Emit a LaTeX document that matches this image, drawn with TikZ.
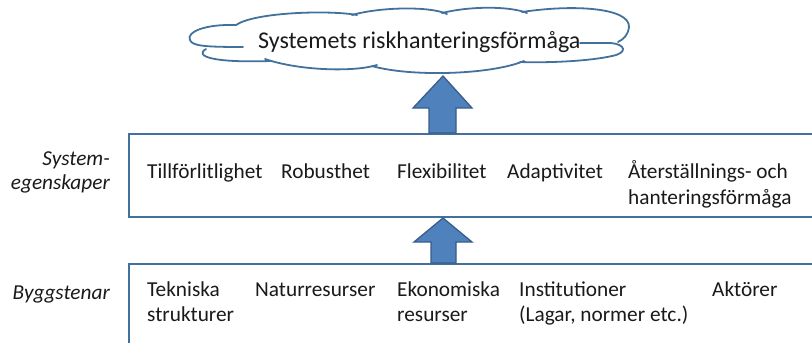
\documentclass[tikz,border=0pt]{standalone}
\usepackage{fontspec}
\setmainfont{Carlito}
\definecolor{edge}{HTML}{41719C}
\definecolor{arrfill}{HTML}{4F81BD}
\definecolor{arredge}{HTML}{385D8A}
\definecolor{txt}{HTML}{1A1A1A}
\begin{document}
\begin{tikzpicture}[x=1pt,y=-1pt,
  lbl/.style={inner sep=0pt, anchor=base west, font=\fontsize{21.3}{26}\selectfont, text=txt},
  side/.style={inner sep=0pt, anchor=base east, font=\fontsize{21.3}{26}\selectfont\itshape, text=txt},
  cloudlbl/.style={inner sep=0pt, anchor=base west, font=\fontsize{24}{28}\selectfont, text=txt},
  panel/.style={draw=edge, line width=2pt, fill=white, inner sep=0pt},
  blockarrow/.style={fill=arrfill, draw=arredge, line width=1.3pt, line join=miter},
  cloudline/.style={draw=edge, line width=1.8pt, line cap=round}]
\useasboundingbox (0,0) rectangle (812,343);
\clip (0,0) rectangle (812,343);

% panels
\node[panel, minimum width=691pt, minimum height=83pt] (box1) at (474.5,175.5) {};
\node[panel, minimum width=691pt, minimum height=96pt] (box2) at (474.5,312) {};

% cloud outline
\draw[cloudline]
  (236,25) .. controls (205,24) and (186,32) .. (190,40)
  .. controls (192,46) and (205,47) .. (243,47);
\draw[cloudline] (236,25) .. controls (255,12) and (330,10) .. (357,15);
\draw[cloudline] (352,15) .. controls (380,7) and (430,6) .. (447,14);
\draw[cloudline] (442,13) .. controls (470,6) and (510,6) .. (527,13);
\draw[cloudline] (522,12) .. controls (575,4) and (630,8) .. (629,27)
  .. controls (628,35) and (624,39) .. (618,42);
\draw[cloudline] (580,43) -- (610,43) .. controls (626,44) and (628,53) .. (612,56)
  .. controls (590,61) and (550,63) .. (520,62);
\draw[cloudline] (206,49) .. controls (194,56) and (212,63) .. (270,61);
\draw[cloudline] (265,59) .. controls (300,71) and (355,72) .. (377,65);
\draw[cloudline] (372,66) .. controls (410,77) and (490,75) .. (524,61);
\coordinate (cloudbottom) at (443,76);

\node[cloudlbl] (ctext) at (258,48) {Systemets riskhanteringsförmåga};

% block arrows
\draw[blockarrow] (429,0 |- box1.north) -- (429,108) -- (413,108) -- (443,0 |- cloudbottom)
  -- (472,108) -- (456,108) -- (456,0 |- box1.north) -- cycle;
\draw[blockarrow] (431,0 |- box2.north) -- (431,242) -- (414,242) -- (443,0 |- box1.south)
  -- (472,242) -- (456,242) -- (456,0 |- box2.north) -- cycle;

% side labels
\node[side] (s1) at (110,165) {System-};
\node[side] (s2) at (110,189) {egenskaper};
\node[side] (s3) at (110,299) {Byggstenar};

% system properties
\node[lbl] (p1) at (147,178) {Tillförlitlighet};
\node[lbl] (p2) at (281,178) {Robusthet};
\node[lbl] (p3) at (397,178) {Flexibilitet};
\node[lbl] (p4) at (507,178) {Adaptivitet};
\node[lbl] (p5) at (628,178) {Återställnings- och};
\node[lbl] (p5b) at (628,204) {hanteringsförmåga};

% building blocks
\node[lbl] (b1) at (147,296) {Tekniska};
\node[lbl] (b1b) at (147,321) {strukturer};
\node[lbl] (b2) at (255,296) {Naturresurser};
\node[lbl] (b3) at (397,296) {Ekonomiska};
\node[lbl] (b3b) at (397,321) {resurser};
\node[lbl] (b4) at (519,296) {Institutioner};
\node[lbl] (b4b) at (519,321) {(Lagar, normer etc.)};
\node[lbl] (b5) at (712,296) {Aktörer};
\end{tikzpicture}
\end{document}
